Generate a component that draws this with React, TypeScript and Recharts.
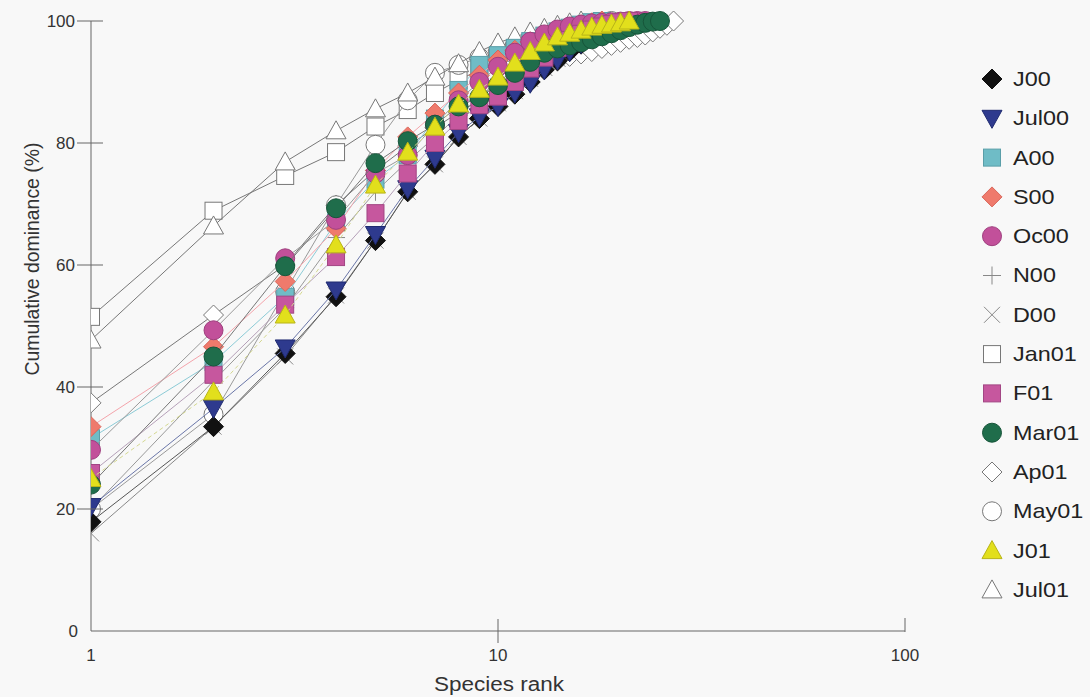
import React from "react";
import { ScatterChart, Scatter, XAxis, YAxis } from "recharts";

// cumulative dominance (%) by species rank
const j00 = [17.9, 33.5, 45.5, 54.8, 64, 72, 76.5, 81, 84, 86, 88, 90, 92, 93.5, 95, 96.2, 97.2, 98, 98.7, 99.3, 100];
const jul00 = [20.4, 36.5, 46.4, 55.9, 65, 72.5, 77.5, 81.7, 84.3, 86, 88.2, 89.8, 92, 93.6, 95, 96.3, 97.4, 98.3, 99, 99.6, 100];
const a00 = [31.6, 44.1, 54.8, 67, 74, 78, 84, 88.7, 92.8, 94.4, 95.6, 96.7, 97.6, 98.3, 98.9, 99.4, 99.8, 100];
const s00 = [33.5, 46.6, 57.3, 66, 75.5, 81, 84.9, 88.2, 91.1, 93.6, 95.2, 96.6, 97.7, 98.4, 99, 99.4, 99.7, 100];
const oc00 = [29.7, 49.3, 61.1, 67.4, 75, 78, 83, 87, 90, 92.5, 94.8, 96.6, 97.8, 98.6, 99.1, 99.4, 99.6, 99.7, 99.8, 99.9, 100, 100, 100];
const n00 = [20, 41, 53, 64.5, 72, 77, 81, 84.5, 87.5, 90, 92, 93.8, 95.2, 96.4, 97.4, 98.2, 98.9, 99.4, 99.8, 100];
const d00 = [16, 33.5, 45, 55, 64, 72, 76.5, 81, 84, 86.5, 88.5, 90.5, 92.3, 93.8, 95.1, 96.2, 97.1, 97.9, 98.6, 99.2, 99.7, 100];
const jan01 = [51.5, 68.9, 74.6, 78.5, 82.7, 85.4, 88.2, 90.3, 92, 93.5, 94.8, 96, 97, 97.8, 98.5, 99.1, 99.6, 100];
const f01 = [25.9, 42, 53.5, 61.3, 68.5, 75, 80, 83.6, 86.2, 87.6, 90, 92.2, 94, 95.6, 96.9, 97.9, 98.6, 99.1, 99.5, 99.8, 100];
const mar01 = [24, 45, 59.8, 69.3, 76.7, 80.3, 83, 86, 87.5, 89.5, 91.5, 93.3, 94.8, 95.5, 96, 96.5, 97, 97.5, 98, 98.5, 99, 99.4, 99.7, 99.9, 100];
const ap01 = [37.4, 51.8, 60, 69.8, 75.5, 79.5, 82.5, 85, 87, 88.8, 90.3, 91.5, 92.5, 93.4, 94.2, 94.6, 95, 95.5, 96, 96.5, 97, 97.3, 97.7, 98.2, 98.8, 99.3, 100];
const may01 = [20, 35.5, 55.6, 69.8, 79.7, 87, 91.5, 92.8, 94, 95, 96, 96.8, 97.5, 98.1, 98.6, 99, 99.4, 99.7, 100];
const j01 = [25, 39.2, 51.8, 63.3, 73.1, 78.5, 82.6, 86.4, 88.8, 90.8, 93.1, 95, 96.4, 97.4, 98, 98.5, 99, 99.3, 99.5, 99.7, 100];
const jul01 = [47.7, 66.4, 76.9, 82, 85.6, 88.2, 90.8, 93, 95, 96.4, 97.4, 98.2, 98.8, 99.3, 99.7, 100];

const yTicks = [0, 20, 40, 60, 80, 100];
const xTicks = [1, 10, 100];

const FONT = "Liberation Sans, Arial, sans-serif";

type Shape = "diamond" | "tridown" | "square" | "circle" | "plus" | "cross" | "triangle";

type Series = { name: string; vals: number[]; shape: Shape; fill: string; stroke: string; line: string; dash?: string; open?: boolean };

const series: Series[] = [
  { name: "J00", vals: j00, shape: "diamond", fill: "#111", stroke: "#111", line: "#555" },
  { name: "Jul00", vals: jul00, shape: "tridown", fill: "#2e3a8e", stroke: "#1f2a70", line: "#6a76a8" },
  { name: "A00", vals: a00, shape: "square", fill: "#6fbcc6", stroke: "#5a9ea8", line: "#8ccbd6" },
  { name: "S00", vals: s00, shape: "diamond", fill: "#ef7a6c", stroke: "#d8665a", line: "#f4a4ab" },
  { name: "Oc00", vals: oc00, shape: "circle", fill: "#c2509a", stroke: "#9e3f7e", line: "#999" },
  { name: "N00", vals: n00, shape: "plus", fill: "none", stroke: "#888", line: "#999", open: true },
  { name: "D00", vals: d00, shape: "cross", fill: "none", stroke: "#888", line: "#888", open: true },
  { name: "Jan01", vals: jan01, shape: "square", fill: "#fff", stroke: "#777", line: "#777", open: true },
  { name: "F01", vals: f01, shape: "square", fill: "#c6579e", stroke: "#a24684", line: "#b5a0b8" },
  { name: "Mar01", vals: mar01, shape: "circle", fill: "#1f6d4b", stroke: "#17553a", line: "#777" },
  { name: "Ap01", vals: ap01, shape: "diamond", fill: "#fff", stroke: "#777", line: "#777", open: true },
  { name: "May01", vals: may01, shape: "circle", fill: "#fff", stroke: "#777", line: "#999", open: true },
  { name: "J01", vals: j01, shape: "triangle", fill: "#e2df1c", stroke: "#b8b418", line: "#d4d890", dash: "4 3" },
  { name: "Jul01", vals: jul01, shape: "triangle", fill: "#fff", stroke: "#777", line: "#777", open: true },
];

// open symbols sit underneath the filled ones
const drawOrder = [...series.filter((s) => s.open), ...series.filter((s) => !s.open)];

const Marker = ({ shape, cx, cy, fill, stroke }: { shape: Shape; cx: number; cy: number; fill: string; stroke: string }) => {
  if (cx == null || cy == null) return null;
  switch (shape) {
    case "diamond":
      return <polygon points={`${cx},${cy - 10} ${cx + 10},${cy} ${cx},${cy + 10} ${cx - 10},${cy}`} fill={fill} stroke={stroke} strokeWidth={1} />;
    case "tridown":
      return <polygon points={`${cx - 10},${cy - 8} ${cx + 10},${cy - 8} ${cx},${cy + 10}`} fill={fill} stroke={stroke} strokeWidth={1} />;
    case "triangle":
      return <polygon points={`${cx - 10},${cy + 8} ${cx + 10},${cy + 8} ${cx},${cy - 10}`} fill={fill} stroke={stroke} strokeWidth={1} />;
    case "square":
      return <rect x={cx - 8.5} y={cy - 8.5} width={17} height={17} fill={fill} stroke={stroke} strokeWidth={1} />;
    case "circle":
      return <circle cx={cx} cy={cy} r={9.5} fill={fill} stroke={stroke} strokeWidth={1} />;
    case "plus":
      return (
        <g stroke={stroke} strokeWidth={1}>
          <line x1={cx - 9} y1={cy} x2={cx + 9} y2={cy} />
          <line x1={cx} y1={cy - 9} x2={cx} y2={cy + 9} />
        </g>
      );
    case "cross":
      return (
        <g stroke={stroke} strokeWidth={1}>
          <line x1={cx - 8} y1={cy - 8} x2={cx + 8} y2={cy + 8} />
          <line x1={cx - 8} y1={cy + 8} x2={cx + 8} y2={cy - 8} />
        </g>
      );
  }
  return null;
};

const YTick = (props: any) => {
  const { y, payload } = props;
  return (
    <g>
      {payload.value !== 0 && <line x1={77} y1={y} x2={103} y2={y} stroke="#666" strokeWidth={1} />}
      <text x={payload.value === 0 ? 78 : 75} y={y} dy={6} textAnchor="end" fontSize={17} fill="#333" fontFamily={FONT}>
        {payload.value}
      </text>
    </g>
  );
};

const XTick = (props: any) => {
  const { x, payload } = props;
  return (
    <g>
      {payload.value === 10 && <line x1={x} y1={619} x2={x} y2={643} stroke="#666" strokeWidth={1} />}
      {payload.value === 100 && <line x1={x} y1={618} x2={x} y2={632} stroke="#666" strokeWidth={1} />}
      <text x={x} y={661} textAnchor="middle" fontSize={17} fill="#333" fontFamily={FONT}>
        {payload.value}
      </text>
    </g>
  );
};

const LegendBox = () => (
  <svg width={115} height={560} style={{ position: "absolute", left: 975, top: 60 }}>
    {series.map((s, i) => (
      <g key={s.name}>
        <Marker shape={s.shape} cx={17} cy={19 + i * 39.3} fill={s.fill} stroke={s.stroke} />
        <text
          x={38}
          y={19 + i * 39.3}
          dy={7}
          fontSize={20}
          fill="#222"
          fontFamily={FONT}
          transform={`translate(38 0) scale(1.17 1) translate(-38 0)`}
        >
          {s.name}
        </text>
      </g>
    ))}
  </svg>
);

export default function App() {
  return (
    <div style={{ position: "absolute", left: 0, top: 0, width: 1090, height: 697, background: "#f8f8f8", fontFamily: FONT }}>
      <ScatterChart width={1090} height={697} margin={{ top: 21, right: 185, bottom: 0, left: 0 }}>
        <XAxis
          dataKey="rank"
          type="number"
          scale="log"
          domain={[1, 100]}
          ticks={xTicks}
          allowDataOverflow
          height={66}
          tickLine={false}
          axisLine={{ stroke: "#666" }}
          tick={<XTick />}
        />
        <YAxis
          dataKey="value"
          type="number"
          domain={[0, 100]}
          ticks={yTicks}
          width={91}
          tickLine={false}
          axisLine={{ stroke: "#666" }}
          tick={<YTick />}
        />
        {drawOrder.map((s) => (
          <Scatter
            key={s.name}
            name={s.name}
            data={s.vals.map((v, i) => ({ rank: i + 1, value: v }))}
            line={{ stroke: s.line, strokeWidth: 1, strokeDasharray: s.dash }}
            lineJointType="linear"
            isAnimationActive={false}
            shape={(p: any) => <Marker shape={s.shape} cx={p.cx} cy={p.cy} fill={s.fill} stroke={s.stroke} />}
          />
        ))}
        <text x={499} y={691} textAnchor="middle" fontSize={20} fill="#333" fontFamily={FONT} textLength={130} lengthAdjust="spacingAndGlyphs">
          Species rank
        </text>
        <text
          transform="translate(32 259) rotate(-90)"
          x={0}
          y={0}
          textAnchor="middle"
          dy={7}
          fontSize={19.5}
          fill="#333"
          fontFamily={FONT}
          textLength={233}
          lengthAdjust="spacingAndGlyphs"
        >
          Cumulative dominance  (%)
        </text>
      </ScatterChart>
      <LegendBox />
    </div>
  );
}
